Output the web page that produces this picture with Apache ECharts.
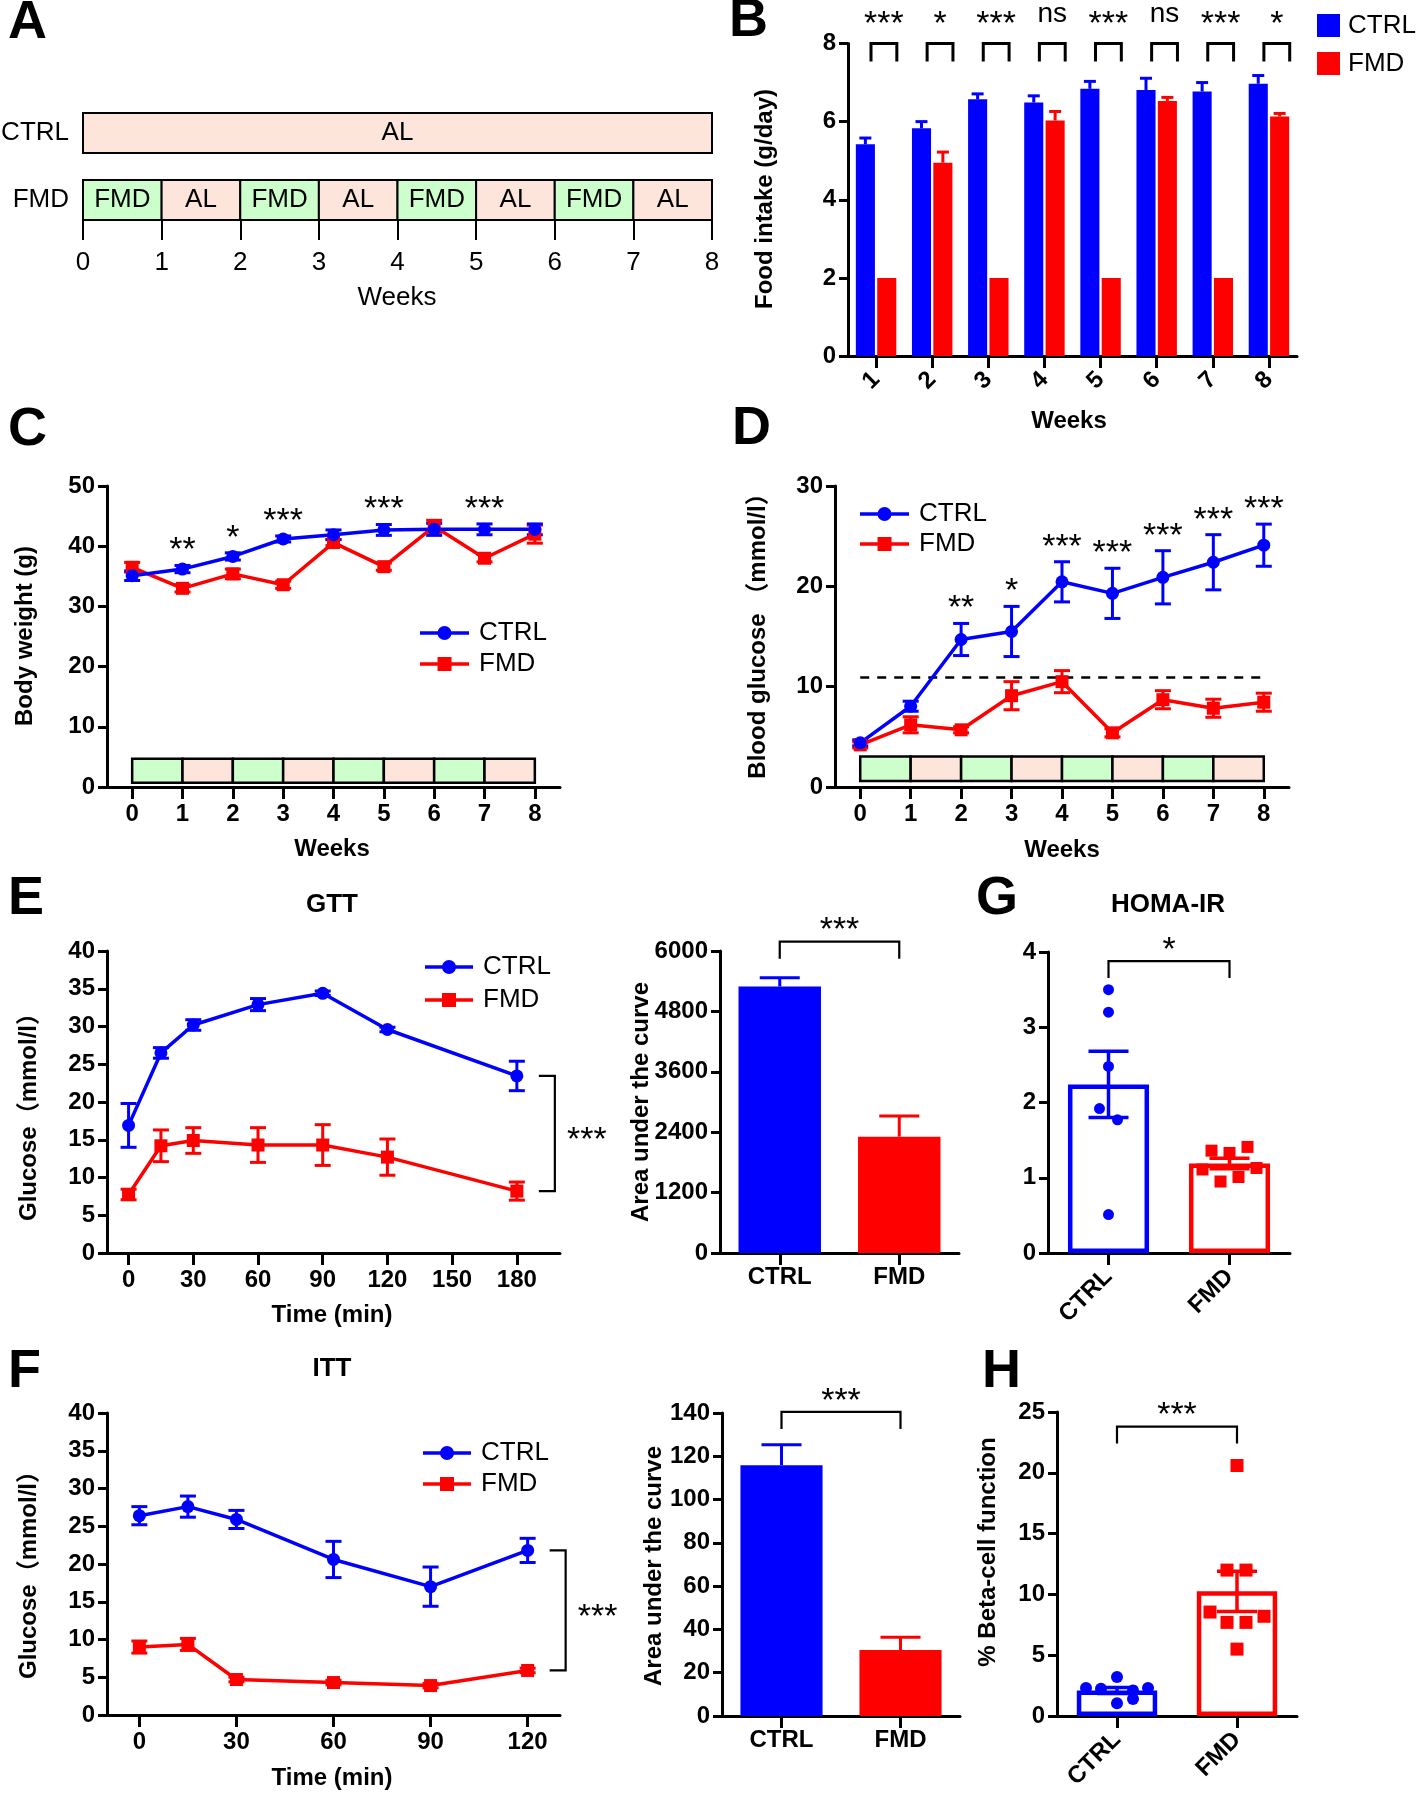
<!DOCTYPE html>
<html><head><meta charset="utf-8">
<script src="https://cdn.jsdelivr.net/npm/echarts/dist/echarts.min.js"></script>
<style>html,body{margin:0;padding:0;background:#fff}#c{width:1418px;height:1796px}</style>
</head><body><div id="c"></div>
<script>
// ================= DATA =================
// Panel A – schedule
const weekTicks = [0,1,2,3,4,5,6,7,8];
const groupsA = ['CTRL','FMD'];
const scheduleCTRL = ['AL'];
const scheduleFMD = ['FMD','AL','FMD','AL','FMD','AL','FMD','AL'];

// Panel B – food intake
const weeksB = ['1','2','3','4','5','6','7','8'];
const intakeCTRL = [5.42,5.83,6.57,6.49,6.84,6.81,6.77,6.97];
const intakeCTRLsem = [0.16,0.17,0.14,0.17,0.19,0.30,0.23,0.21];
const intakeFMD = [2.0,4.95,2.0,6.03,2.0,6.53,2.0,6.13];
const intakeFMDsem = [0,0.27,0,0.23,0,0.09,0,0.08];
const sigB = ['***','*','***','ns','***','ns','***','*'];

// Panel C – body weight
const bwCTRL = [35.1,36.2,38.3,41.2,41.9,42.7,42.8,42.8,42.8];
const bwCTRLsem = [0.8,0.6,0.6,0.5,0.8,0.9,1.0,0.9,0.9];
const bwFMD = [36.5,33.0,35.4,33.6,40.6,36.6,43.3,38.0,42.0];
const bwFMDsem = [0.8,0.6,0.8,0.6,0.5,0.6,1.0,0.6,1.5];
const sigCWeeks = [1,2,3,5,7];
const sigCLabels = ['**','*','***','***','***'];

// Panel D – blood glucose
const bgCTRL = [4.4,8.05,14.7,15.5,20.45,19.3,20.9,22.4,24.1];
const bgCTRLsem = [0.3,0.5,1.6,2.5,2.0,2.5,2.65,2.75,2.1];
const bgFMD = [4.2,6.2,5.7,9.1,10.5,5.4,8.7,7.85,8.45];
const bgFMDsem = [0.3,0.8,0.3,1.4,1.1,0.4,0.9,0.9,0.9];
const bgThreshold = 10.9;
const sigDWeeks = [2,3,4,5,6,7,8];
const sigDLabels = ['**','*','***','***','***','***','***'];

// Panel E – GTT
const timeGTT = [0,15,30,60,90,120,180];
const gttTicks = [0,30,60,90,120,150,180];
const gttCTRL = [16.9,26.5,30.2,32.9,34.4,29.6,23.45];
const gttCTRLsem = [2.9,0.7,0.7,0.8,0.3,0.3,1.95];
const gttFMD = [7.75,14.2,14.9,14.3,14.3,12.7,8.2];
const gttFMDsem = [0.7,2.1,1.7,2.3,2.7,2.4,1.2];
const aucGroups = ['CTRL','FMD'];
const gttAUC = [5296,2312];
const gttAUCsem = [173,412];

// Panel F – ITT
const timeITT = [0,15,30,60,90,120];
const ittTicks = [0,30,60,90,120];
const ittCTRL = [26.4,27.6,25.9,20.6,17.0,21.8];
const ittCTRLsem = [1.2,1.4,1.2,2.4,2.6,1.6];
const ittFMD = [9.0,9.35,4.7,4.3,3.9,5.9];
const ittFMDsem = [0.8,0.8,0.3,0.3,0.3,0.3];
const ittAUC = [115.9,30.5];
const ittAUCsem = [9.4,5.9];

// Panel G – HOMA-IR
const homaCTRL = [3.50,3.20,2.48,1.92,1.77,0.51];
const homaFMD = [1.36,1.33,1.41,1.11,1.13,0.95,1.01];
const homaMean = [2.24,1.19];
const homaSem = [0.44,0.07];

// Panel H – beta-cell function
const betaCTRL = [2.3,2.25,3.2,2.1,2.3,1.05,1.4];
const betaFMD = [20.6,12.0,12.0,8.55,8.2,7.7,7.7,5.5];
const betaMean = [2.1,10.25];
const betaSem = [0.25,1.65];

// ================= LAYOUT / STYLE =================
const FONT = '"Liberation Sans", Arial, Helvetica, sans-serif';
const FONTCJK = '"Liberation Sans", "Noto Sans CJK SC", sans-serif';
const BLUE = '#0000ff', RED = '#ff0000';
const GREEN_BOX = '#ccffcc', PINK_BOX = '#fde5dc';
const GCOL = [BLUE, RED];
const STAR = 34;
// horizontal jitter of individual dots (pixels)
const jitGC = [0,0,0,-9,9,0];
const jitGF = [-18,0,18,-27,27,-9,9];
const jitHC = [-31,-16,0,16,31,0,16];
const jitHF = [0,-10,9,-27,27,-10,9,0];

const chart = echarts.init(document.getElementById('c'), null, {renderer:'canvas', width:1418, height:1796});

const grids = [
  {left:83, top:113, width:629, height:107},
  {left:848, top:43.5, width:449, height:312.5},
  {left:107, top:486, width:453, height:301},
  {left:835, top:486, width:454, height:301},
  {left:107, top:951, width:453, height:302},
  {left:720, top:951, width:239, height:302},
  {left:1048, top:952, width:242, height:301},
  {left:107, top:1413, width:453, height:302},
  {left:722, top:1413, width:238, height:303},
  {left:1057, top:1412, width:240, height:304}
].map(g => Object.assign(g, {containLabel:false, outerBoundsMode:'none', show:false}));

const AXL = {show:true, onZero:false, lineStyle:{color:'#000', width:3}};
const LBL = {color:'#000', fontFamily:FONT, fontWeight:'bold', fontSize:24};
function yAx(gi, min, max, interval) {
  return {type:'value', gridIndex:gi, min, max, interval,
    axisLine:AXL, axisTick:{show:true, length:9, lineStyle:{color:'#000', width:3}},
    axisLabel:Object.assign({margin:12, formatter: v => String(v)}, LBL), splitLine:{show:false}};
}
function xVal(gi, min, max, ticks) {
  return {type:'value', gridIndex:gi, min, max,
    axisLine:AXL, axisTick:{show:true, length:12, customValues:ticks, lineStyle:{color:'#000', width:3}},
    axisLabel:Object.assign({margin:15, customValues:ticks}, LBL), splitLine:{show:false}};
}
function xCat(gi, cats, rotate, margin) {
  return {type:'category', gridIndex:gi, data:cats, boundaryGap:true,
    axisLine:AXL, axisTick:{show:true, alignWithLabel:true, length:12, lineStyle:{color:'#000', width:3}},
    axisLabel:Object.assign({margin:margin || 12, interval:0, rotate:rotate||0}, LBL), splitLine:{show:false}};
}

const xAxes = [
  {type:'value', gridIndex:0, min:0, max:8, interval:1,
   axisLine:{show:true, onZero:false, lineStyle:{color:'#000', width:2}},
   axisTick:{show:true, length:20, lineStyle:{color:'#000', width:2}},
   axisLabel:{color:'#000', fontFamily:FONT, fontSize:26, margin:30}, splitLine:{show:false}},
  xCat(1, weeksB, 45, 20),
  xVal(2, -0.5, 8.5, weekTicks),
  xVal(3, -0.5, 8.5, weekTicks),
  xVal(4, -10, 200, gttTicks),
  xCat(5, aucGroups),
  xCat(6, aucGroups, 45, 20),
  xVal(7, -10, 130, ittTicks),
  xCat(8, aucGroups),
  xCat(9, aucGroups, 45, 20)
];
const yAxes = [
  {type:'value', gridIndex:0, min:0, max:1, show:false},
  yAx(1, 0, 8, 2),
  yAx(2, 0, 50, 10),
  yAx(3, 0, 30, 10),
  yAx(4, 0, 40, 5),
  yAx(5, 0, 6000, 1200),
  yAx(6, 0, 4, 1),
  yAx(7, 0, 40, 5),
  yAx(8, 0, 140, 20),
  yAx(9, 0, 25, 5)
];

// ---------- helpers ----------
function sigText(t, x, cy, size) {
  size = size || STAR;
  const star = t.indexOf('*') >= 0;
  return {type:'text', x:x, y: cy + (star ? size*0.22 : -size*0.08),
    style:{text:t, font: (star ? size : 28) + 'px ' + FONT, fill:'#000', align:'center', verticalAlign:'middle'}};
}
function errSeries(gi, xs, means, sems, color, o) {
  return {type:'custom', xAxisIndex:gi, yAxisIndex:gi, silent:true, z:o.z || 3, clip:false,
    data: means.map((m,i) => [xs[i], m, sems[i]]),
    encode:{x:0, y:1},
    renderItem(params, api) {
      const x = api.value(0), m = api.value(1), e = api.value(2);
      if (!e) return {type:'group', children:[]};
      const c = api.coord([x, m]);
      const dx = o.barOffset ? api.size([1,0])[0] * o.barOffset : 0;
      const px = c[0] + dx;
      const top = api.coord([x, m + e])[1];
      const bot = o.upOnly ? c[1] : api.coord([x, m - e])[1];
      const col = Array.isArray(color) ? color[params.dataIndex] : color;
      const st = {stroke:col, lineWidth:o.lw || 3};
      const ch = [{type:'line', shape:{x1:px, y1:top, x2:px, y2:bot}, style:st},
                  {type:'line', shape:{x1:px-o.cap, y1:top, x2:px+o.cap, y2:top}, style:st}];
      if (!o.upOnly) ch.push({type:'line', shape:{x1:px-o.cap, y1:bot, x2:px+o.cap, y2:bot}, style:st});
      return {type:'group', children:ch};
    }};
}
function lineSeries(gi, name, xs, vals, color, symbol, size) {
  return {type:'line', name, xAxisIndex:gi, yAxisIndex:gi, z:4, silent:true,
    data: vals.map((v,i) => [xs[i], v]),
    symbol, symbolSize:size, showSymbol:true,
    itemStyle:{color, borderWidth:0}, lineStyle:{color, width:3.5}};
}
function phaseSeries(gi, phases, y0, y1) {
  return {type:'custom', xAxisIndex:gi, yAxisIndex:gi, silent:true, z:1, clip:false,
    data: phases.map((p,i) => [i, i+1]),
    encode:{x:[0,1]},
    renderItem(params, api) {
      const a = api.coord([api.value(0), y1]), b = api.coord([api.value(1), y0]);
      return {type:'rect', shape:{x:a[0], y:a[1], width:b[0]-a[0], height:b[1]-a[1]},
        style:{fill: phases[params.dataIndex] === 'FMD' ? GREEN_BOX : PINK_BOX, stroke:'#000', lineWidth:2.5}};
    }};
}
function sigAbove(gi, weeks, labels, cM, cE, fM, fE) {
  return {type:'custom', xAxisIndex:gi, yAxisIndex:gi, silent:true, z:6, clip:false,
    data: weeks.map(w => [w, Math.max(cM[w] + cE[w], fM[w] + fE[w])]),
    renderItem(params, api) {
      const p = api.coord([api.value(0), api.value(1)]);
      return sigText(labels[params.dataIndex], p[0], p[1] - 22);
    }};
}
function sideBracket(gi, xLast, yTop, yBot, label) {
  return {type:'custom', xAxisIndex:gi, yAxisIndex:gi, silent:true, z:6, clip:false,
    data: [[xLast, yTop, yBot]],
    renderItem(params, api) {
      const a = api.coord([api.value(0), api.value(1)]), b = api.coord([api.value(0), api.value(2)]);
      const x1 = a[0] + 22, x2 = a[0] + 38;
      return {type:'group', children:[
        {type:'polyline', shape:{points:[[x1,a[1]],[x2,a[1]],[x2,b[1]],[x1,b[1]]]}, style:{stroke:'#000', lineWidth:2.2, fill:null}},
        sigText(label, a[0] + 70, (a[1] + b[1]) / 2)
      ]};
    }};
}
function aucBracket(gi, label, yTop) {
  return {type:'custom', xAxisIndex:gi, yAxisIndex:gi, silent:true, z:6, clip:false,
    data: [[0, yTop]],
    renderItem(params, api) {
      const a = api.coord([0, yTop]), b = api.coord([1, yTop]);
      const leg = 17;
      return {type:'group', children:[
        {type:'polyline', shape:{points:[[a[0],a[1]+leg],[a[0],a[1]],[b[0],b[1]],[b[0],b[1]+leg]]}, style:{stroke:'#000', lineWidth:2.2, fill:null}},
        sigText(label, (a[0] + b[0]) / 2, a[1] - 18)
      ]};
    }};
}
function dots(gi, cat, vals, jit, color, symbol, size) {
  return {type:'scatter', xAxisIndex:gi, yAxisIndex:gi, z:5, silent:true,
    symbol, symbolSize:size, itemStyle:{color, opacity:1},
    data: vals.map((v,i) => ({value:[cat, v], symbolOffset:[jit[i], 0]}))};
}

// ---------- series ----------
const series = [];

// A schedule
const schedRows = {CTRL:[0.626, 1.0], FMD:[0, 0.374]};
const schedData = [];
scheduleCTRL.forEach((p,i) => schedData.push([0, 8, groupsA[0], p, i]));
scheduleFMD.forEach((p,i) => schedData.push([i, i+1, groupsA[1], p, i]));
series.push({type:'custom', xAxisIndex:0, yAxisIndex:0, silent:true, z:2, clip:false,
  data: schedData.map(d => [d[0], d[1]]),
  encode:{x:[0,1]},
  renderItem(params, api) {
    const d = schedData[params.dataIndex];
    const r = schedRows[d[2]];
    const a = api.coord([api.value(0), r[1]]), b = api.coord([api.value(1), r[0]]);
    const ch = [
      {type:'rect', shape:{x:a[0], y:a[1], width:b[0]-a[0], height:b[1]-a[1]},
       style:{fill: d[3] === 'FMD' ? GREEN_BOX : PINK_BOX, stroke:'#000', lineWidth:2}},
      {type:'text', x:(a[0]+b[0])/2, y:(a[1]+b[1])/2,
       style:{text:d[3], font:'26px ' + FONT, fill:'#000', align:'center', verticalAlign:'middle'}}
    ];
    if (d[4] === 0) ch.push({type:'text', x:a[0]-14, y:(a[1]+b[1])/2,
       style:{text:d[2], font:'26px ' + FONT, fill:'#000', align:'right', verticalAlign:'middle'}});
    return {type:'group', children:ch};
  }});

// B
series.push({type:'bar', name:'CTRL', xAxisIndex:1, yAxisIndex:1, data:intakeCTRL, barWidth:'34%', barGap:'12%', itemStyle:{color:BLUE}, silent:true, z:2});
series.push({type:'bar', name:'FMD', xAxisIndex:1, yAxisIndex:1, data:intakeFMD, barWidth:'34%', barGap:'12%', itemStyle:{color:RED}, silent:true, z:2});
const idxB = weeksB.map((w,i) => i);
series.push(errSeries(1, idxB, intakeCTRL, intakeCTRLsem, BLUE, {upOnly:true, cap:6, lw:3, barOffset:-0.1904}));
series.push(errSeries(1, idxB, intakeFMD, intakeFMDsem, RED, {upOnly:true, cap:6, lw:3, barOffset:0.1904}));
series.push({type:'custom', xAxisIndex:1, yAxisIndex:1, silent:true, z:6, clip:false,
  data: sigB.map((s,i) => [i, 8]),
  renderItem(params, api) {
    const band = api.size([1,0])[0];
    const c = api.coord([api.value(0), api.value(1)]);
    const x1 = c[0] - 0.09*band, x2 = c[0] + 0.37*band, y = c[1];
    return {type:'group', children:[
      {type:'polyline', shape:{points:[[x1,y+18],[x1,y],[x2,y],[x2,y+18]]}, style:{stroke:'#000', lineWidth:3, fill:null}},
      sigText(sigB[params.dataIndex], (x1+x2)/2, y - 26)
    ]};
  }});

// C
series.push(phaseSeries(2, scheduleFMD, 0.7, 4.7));
series.push(errSeries(2, weekTicks, bwFMD, bwFMDsem, RED, {cap:8, lw:3}));
series.push(errSeries(2, weekTicks, bwCTRL, bwCTRLsem, BLUE, {cap:8, lw:3}));
series.push(lineSeries(2, 'FMD', weekTicks, bwFMD, RED, 'rect', 13));
series.push(lineSeries(2, 'CTRL', weekTicks, bwCTRL, BLUE, 'circle', 13));
series.push(sigAbove(2, sigCWeeks, sigCLabels, bwCTRL, bwCTRLsem, bwFMD, bwFMDsem));

// D
series.push(phaseSeries(3, scheduleFMD, 0.6, 3.05));
series.push(errSeries(3, weekTicks, bgFMD, bgFMDsem, RED, {cap:8, lw:3}));
series.push(errSeries(3, weekTicks, bgCTRL, bgCTRLsem, BLUE, {cap:8, lw:3}));
const dFMD = lineSeries(3, 'FMD', weekTicks, bgFMD, RED, 'rect', 13);
dFMD.markLine = {silent:true, symbol:'none', label:{show:false}, z:2,
  lineStyle:{color:'#000', width:2.5, type:[9,8]},
  data:[[{coord:[weekTicks[0], bgThreshold]}, {coord:[weekTicks[weekTicks.length-1], bgThreshold]}]]};
series.push(dFMD);
series.push(lineSeries(3, 'CTRL', weekTicks, bgCTRL, BLUE, 'circle', 13));
series.push(sigAbove(3, sigDWeeks, sigDLabels, bgCTRL, bgCTRLsem, bgFMD, bgFMDsem));

// E GTT
series.push(errSeries(4, timeGTT, gttFMD, gttFMDsem, RED, {cap:8, lw:3}));
series.push(errSeries(4, timeGTT, gttCTRL, gttCTRLsem, BLUE, {cap:8, lw:3}));
series.push(lineSeries(4, 'FMD', timeGTT, gttFMD, RED, 'rect', 13));
series.push(lineSeries(4, 'CTRL', timeGTT, gttCTRL, BLUE, 'circle', 13));
series.push(sideBracket(4, timeGTT[timeGTT.length-1], gttCTRL[gttCTRL.length-1], gttFMD[gttFMD.length-1], '***'));
// E AUC
series.push({type:'bar', xAxisIndex:5, yAxisIndex:5, barWidth:'69%', silent:true, z:2,
  data: gttAUC.map((v,i) => ({value:v, itemStyle:{color:GCOL[i]}}))});
series.push(errSeries(5, [0,1], gttAUC, gttAUCsem, GCOL, {upOnly:true, cap:20, lw:3}));
series.push(aucBracket(5, '***', 6186));

// G HOMA-IR
series.push({type:'bar', xAxisIndex:6, yAxisIndex:6, barWidth:'67%', silent:true, z:2,
  data: homaMean.map((v,i) => ({value:v, itemStyle:{color:'#fff', borderColor:GCOL[i], borderWidth:4.5}}))});
series.push(errSeries(6, [0,1], homaMean, homaSem, GCOL, {cap:20, lw:3.5}));
series.push(dots(6, 0, homaCTRL, jitGC, BLUE, 'circle', 11));
series.push(dots(6, 1, homaFMD, jitGF, RED, 'rect', 12));
series.push(aucBracket(6, '*', 3.88));

// F ITT
series.push(errSeries(7, timeITT, ittFMD, ittFMDsem, RED, {cap:8, lw:3}));
series.push(errSeries(7, timeITT, ittCTRL, ittCTRLsem, BLUE, {cap:8, lw:3}));
series.push(lineSeries(7, 'FMD', timeITT, ittFMD, RED, 'rect', 13));
series.push(lineSeries(7, 'CTRL', timeITT, ittCTRL, BLUE, 'circle', 13));
series.push(sideBracket(7, timeITT[timeITT.length-1], ittCTRL[ittCTRL.length-1], ittFMD[ittFMD.length-1], '***'));
// F AUC
series.push({type:'bar', xAxisIndex:8, yAxisIndex:8, barWidth:'69%', silent:true, z:2,
  data: ittAUC.map((v,i) => ({value:v, itemStyle:{color:GCOL[i]}}))});
series.push(errSeries(8, [0,1], ittAUC, ittAUCsem, GCOL, {upOnly:true, cap:20, lw:3}));
series.push(aucBracket(8, '***', 140.5));

// H beta-cell
series.push({type:'bar', xAxisIndex:9, yAxisIndex:9, barWidth:'67%', silent:true, z:2,
  data: betaMean.map((v,i) => ({value:v, itemStyle:{color:'#fff', borderColor:GCOL[i], borderWidth:4.5}}))});
series.push(errSeries(9, [0,1], betaMean, betaSem, GCOL, {cap:20, lw:3.5}));
series.push(dots(9, 0, betaCTRL, jitHC, BLUE, 'circle', 12));
series.push(dots(9, 1, betaFMD, jitHF, RED, 'rect', 13));
series.push(aucBracket(9, '***', 23.8));

// ---------- graphics (letters, titles, axis names, legends) ----------
const graphic = [];
function txt(t, x, y, font, opts) {
  graphic.push(Object.assign({type:'text', x, y, silent:true,
    style:{text:t, font, fill:'#000', align:'center', verticalAlign:'middle'}}, opts || {}));
}
[['A',8,23],['B',729,21],['C',8,430],['D',732,429],['E',8,899],['G',976,899],['F',8,1372],['H',982,1372]]
  .forEach(l => graphic.push({type:'text', x:l[1], y:l[2], silent:true,
    style:{text:l[0], font:'bold 54px ' + FONT, fill:'#000', align:'left', verticalAlign:'middle'}}));
[['GTT',332,905],['ITT',332,1369],['HOMA-IR',1168,905]].forEach(t => txt(t[0], t[1], t[2], 'bold 26px ' + FONT));
txt('Weeks', 397, 298, '26px ' + FONT);
[['Weeks',1069,421],['Weeks',332,849],['Weeks',1062,850],['Time (min)',332,1315],['Time (min)',332,1778]]
  .forEach(t => txt(t[0], t[1], t[2], 'bold 24px ' + FONT));
[['Food intake (g/day)',765,199],['Body weight (g)',25,636],['Blood glucose （mmol/l）',758,630],
 ['Glucose（mmol/l）',29,1111],['Area under the curve',641,1102],['Glucose（mmol/l）',29,1569],
 ['Area under the curve',654,1566],['% Beta-cell function',988,1552]]
  .forEach(t => txt(t[0], t[1], t[2], 'bold 24px ' + FONTCJK, {rotation:Math.PI/2}));

// B legend
[['CTRL',BLUE,14],['FMD',RED,52]].forEach(l => {
  graphic.push({type:'rect', silent:true, shape:{x:1317, y:l[2], width:23, height:23}, style:{fill:l[1]}});
  graphic.push({type:'text', silent:true, x:1348, y:l[2]+11.5, style:{text:l[0], font:'26px ' + FONT, fill:'#000', align:'left', verticalAlign:'middle'}});
});
// line legends
function lineLegend(x1, x2, yC, yF) {
  [['CTRL',BLUE,yC,'circle'],['FMD',RED,yF,'rect']].forEach(l => {
    graphic.push({type:'line', silent:true, shape:{x1, y1:l[2], x2, y2:l[2]}, style:{stroke:l[1], lineWidth:3.5}});
    const cx = (x1 + x2) / 2;
    if (l[3] === 'circle') graphic.push({type:'circle', silent:true, shape:{cx, cy:l[2], r:7}, style:{fill:l[1]}});
    else graphic.push({type:'rect', silent:true, shape:{x:cx-7, y:l[2]-7, width:14, height:14}, style:{fill:l[1]}});
    graphic.push({type:'text', silent:true, x:x2 + 10, y:l[2], style:{text:l[0], font:'26px ' + FONT, fill:'#000', align:'left', verticalAlign:'middle'}});
  });
}
lineLegend(420, 469, 633, 664);
lineLegend(860, 909, 514, 544);
lineLegend(425, 473, 967, 1000);
lineLegend(423, 471, 1453, 1484);

chart.setOption({
  animation:false,
  backgroundColor:'#fff',
  textStyle:{fontFamily:FONT},
  grid:grids, xAxis:xAxes, yAxis:yAxes, series, graphic
});
</script></body></html>
